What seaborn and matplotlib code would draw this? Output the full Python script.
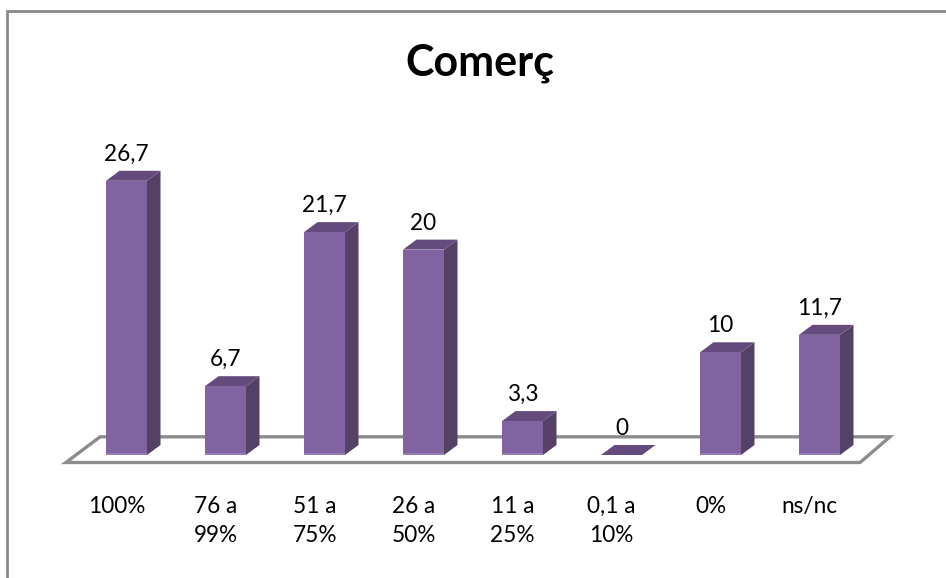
import matplotlib

matplotlib.use("Agg")
import matplotlib.pyplot as plt
import pandas as pd
import seaborn as sns
from matplotlib.lines import Line2D
from matplotlib.patches import Polygon
from matplotlib.transforms import ScaledTranslation

# values
categories = ["100%", "76 a\n99%", "51 a\n75%", "26 a\n50%", "11 a\n25%", "0,1 a\n10%", "0%", "ns/nc"]
values = [26.7, 6.7, 21.7, 20, 3.3, 0, 10, 11.7]
value_labels = ["26,7", "6,7", "21,7", "20", "3,3", "0", "10", "11,7"]
title = "Comerç"

FRONT = "#8263a2"
SIDE = "#554066"
TOP = "#634b7e"
EDGE = "#9b82ba"
FLOOR = "#8c8c8c"
FRAME = "#8a8a8a"

W, H = 946, 578
PX_PER_CAT = 99.0
PX_PER_UNIT = 10.27
DEPTH_X = 13.5 / PX_PER_CAT
DEPTH_Y = 10 / PX_PER_UNIT

sns.set_theme(style="white")
plt.rcParams["font.family"] = ["Lato", "DejaVu Sans"]

fig = plt.figure(figsize=(W / 100, H / 100), dpi=100)
fig.patch.set_facecolor("white")

# axes box in pixels, so one category and one unit have the reference's scale
left, right, bottom, top = 77.0, 77.0 + 8 * PX_PER_CAT, 455.0, 100.0
ax = fig.add_axes([left / W, 1 - bottom / H, (right - left) / W, (bottom - top) / H])
ax.patch.set_alpha(0)

df = pd.DataFrame({"category": categories, "value": values})
sns.barplot(
    data=df, x="category", y="value", color=FRONT, saturation=1, width=41 / 99, edgecolor="none", linewidth=0, ax=ax, zorder=3
)
ax.set_xlim(-0.5, 7.5)
ax.set_ylim(0, (bottom - top) / PX_PER_UNIT)

# frame of the chart area: only the top and left sides are inside the picture
frame_x = [6.8 / W, 6.8 / W, 1.01]
frame_y = [-0.01, 1 - 10.5 / H, 1 - 10.5 / H]
fig.add_artist(Line2D(frame_x, frame_y, transform=fig.transFigure, color=FRAME, lw=2.0, solid_joinstyle="miter"))

# floor of the 3D chart
floor_x0, floor_x1 = -0.612, 7.41
floor_y0, floor_dx, floor_dy = -0.73, 0.345, 2.5
ax.add_patch(
    Polygon(
        [
            (floor_x0, floor_y0),
            (floor_x1, floor_y0),
            (floor_x1 + floor_dx * 0.875, floor_y0 + floor_dy),
            (floor_x0 + floor_dx, floor_y0 + floor_dy),
        ],
        closed=True,
        fill=False,
        ec=FLOOR,
        lw=2.4,
        joinstyle="miter",
        clip_on=False,
        zorder=1,
    )
)

# side and top faces come from the bars seaborn drew
for bar, value, text in zip(ax.patches, values, value_labels):
    x0, x1 = bar.get_x(), bar.get_x() + bar.get_width()
    h = bar.get_height()
    ax.add_patch(
        Polygon(
            [(x1, 0), (x1 + DEPTH_X, DEPTH_Y), (x1 + DEPTH_X, h + DEPTH_Y), (x1, h)],
            fc=SIDE,
            ec="none",
            clip_on=False,
            zorder=2,
        )
    )
    ax.add_patch(
        Polygon(
            [(x0, h), (x1, h), (x1 + DEPTH_X, h + DEPTH_Y), (x0 + DEPTH_X, h + DEPTH_Y)],
            fc=TOP,
            ec="none",
            clip_on=False,
            zorder=2,
        )
    )
    if h > 0:
        ax.plot([x0, x1], [0.08, 0.08], color=EDGE, lw=1.2, solid_capstyle="butt", clip_on=False, zorder=4)
    ax.annotate(
        text,
        (bar.get_x() + bar.get_width() / 2, h + DEPTH_Y),
        xytext=(0, 6 * 0.72),
        textcoords="offset points",
        ha="center",
        va="bottom",
        fontsize=16.3,
        color="black",
        annotation_clip=False,
    )

ax.set_xlabel("")
ax.set_ylabel("")
ax.set_yticks([])
ax.tick_params(axis="x", length=0, pad=29.5, labelsize=16.3, colors="black")
shift = ScaledTranslation(-10 / 100, 0, fig.dpi_scale_trans)
for label in ax.get_xticklabels():
    label.set_transform(label.get_transform() + shift)
    label.set_linespacing(1.5)
sns.despine(ax=ax, left=True, bottom=True)

fig.text(480 / W, 1 - 63 / H, title, ha="center", va="center", fontsize=31, fontweight="bold", color="black")

fig.savefig("out.png", dpi=100)
